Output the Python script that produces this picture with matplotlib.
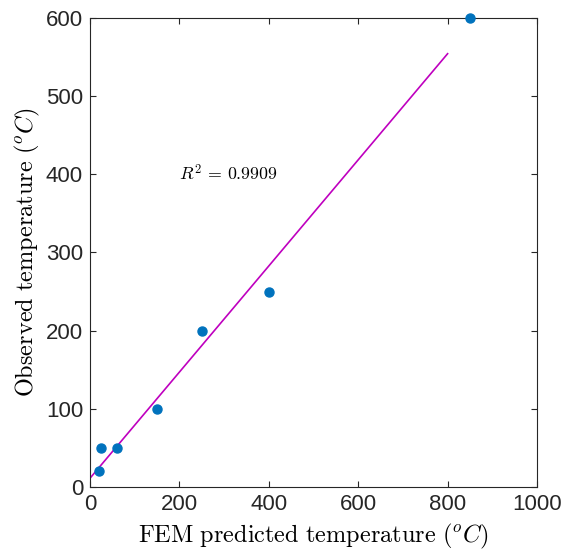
import matplotlib
matplotlib.use('Agg')
import matplotlib.pyplot as plt
import numpy as np

## data
fem_pred = [20, 25, 60, 150, 250, 400, 850]
observed = [20, 50, 50, 100, 200, 250, 600]
fit_range = [0, 800]
r2_label = r'$R^2\,=\,0.9909$'

plt.rcParams['mathtext.fontset'] = 'cm'
plt.rcParams['font.family'] = ['Liberation Sans', 'DejaVu Sans']

## linear fit
p = np.polyfit(fem_pred, observed, 1)
fx = np.array(fit_range)
fy = np.polyval(p, fx)

fig = plt.figure(figsize=(5.66, 5.54), dpi=100)
ax = fig.add_axes([90/566, 1-487/554, 447/566, 469/554])

ax.plot(fx, fy, color='#BF00BF', lw=1.2)
ax.plot(fem_pred, observed, 'o', color='#0072BD', ms=6.5, clip_on=False, zorder=5)
ax.text(200, 400, r2_label, fontsize=12.8, va='center', ha='left')

ax.set_xlim(0, 1000)
ax.set_ylim(0, 600)
ax.set_xticks(np.arange(0, 1001, 200))
ax.set_yticks(np.arange(0, 601, 100))

axcol = '#262626'
for s in ax.spines.values():
    s.set_color(axcol)
    s.set_linewidth(0.8)
ax.tick_params(direction='in', top=True, right=True, length=4.5, width=0.8,
               colors=axcol, labelsize=16, pad=5)

ax.set_xlabel(r'$\mathrm{FEM\ predicted\ temperature}\ (^oC)$', fontsize=17.5, labelpad=5)
ax.set_ylabel(r'$\mathrm{Observed\ temperature}\ (^oC)$', fontsize=17.5, labelpad=3)

fig.savefig('out.png', dpi=100)
